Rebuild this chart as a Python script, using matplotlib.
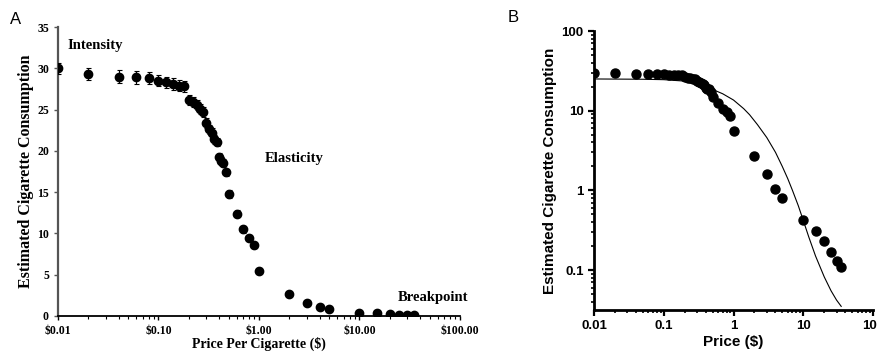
import matplotlib
matplotlib.use("Agg")
import matplotlib.pyplot as plt
from matplotlib.ticker import FixedLocator, LogLocator, NullFormatter, FixedFormatter
import numpy as np

# data
price = [0.01, 0.02, 0.04, 0.06, 0.08, 0.10, 0.12, 0.14, 0.16, 0.18,
         0.20, 0.22, 0.24, 0.26, 0.28, 0.30, 0.32, 0.34, 0.36, 0.38,
         0.40, 0.42, 0.44, 0.47, 0.50, 0.60, 0.70, 0.80, 0.90, 1.00,
         2, 3, 4, 5, 10, 15, 20, 25, 30, 35]
consumption = [30.0, 29.3, 29.0, 28.9, 28.8, 28.5, 28.3, 28.1, 27.9, 27.8,
               26.2, 25.9, 25.5, 25.1, 24.7, 23.4, 22.6, 22.2, 21.4, 21.1,
               19.2, 18.8, 18.5, 17.4, 14.8, 12.4, 10.5, 9.5, 8.6, 5.5,
               2.7, 1.6, 1.05, 0.8, 0.42, 0.31, 0.23, 0.17, 0.13, 0.11]
sem = [0.7, 0.75, 0.75, 0.75, 0.75, 0.7, 0.7, 0.7, 0.7, 0.7,
       0.6, 0.6, 0.6, 0.6, 0.6, 0.6, 0.55, 0.55, 0.55, 0.5,
       0.5, 0.5, 0.5, 0.45, 0.45, 0.4, 0.4, 0.35, 0.35, 0.3,
       0.2, 0.15, 0.1, 0.1, 0.05, 0.05, 0.05, 0.05, 0.05, 0.05]

# fitted demand curve (panel B)
curve_price = [0.01, 0.05, 0.1, 0.2, 0.3, 0.5, 0.7, 1.0, 1.4, 1.7, 2.2, 3.0,
               4.0, 5.0, 6.0, 7.0, 8.5, 10, 12, 15, 20, 25, 30, 35]
curve_q = [25.0, 24.8, 24.5, 23.5, 22.0, 18.5, 16.3, 13.6, 10.6, 8.9, 6.7, 4.6,
           3.0, 2.0, 1.4, 1.0, 0.64, 0.42, 0.26, 0.15, 0.082, 0.055, 0.042, 0.035]

a_ticks = [0.01, 0.1, 1, 10, 100]
a_ticklabels = [r'\$0.01', r'\$0.10', r'\$1.00', r'\$10.00', r'\$100.00']
b_xticklabels = ['0.01', '0.1', '1', '10', '100']
b_yticks = [0.1, 1, 10, 100]
b_yticklabels = ['0.1', '1', '10', '100']

fig = plt.figure(figsize=(8.77, 3.53), dpi=100)

serif = 'Liberation Serif'
sans = 'Liberation Sans'

# ---- panel A ----
ax = fig.add_axes([58/877, 1-316/353, (460-58)/877, (316-27)/353])
ax.errorbar(price, consumption, yerr=sem, fmt='o', color='black', ms=6,
            ecolor='black', elinewidth=0.8, capsize=1.8, capthick=0.8, zorder=3)
ax.set_xscale('log')
ax.set_xlim(0.01, 100)
ax.set_ylim(0, 35)
ax.set_yticks(range(0, 36, 5))
ax.xaxis.set_major_locator(FixedLocator(a_ticks))
ax.xaxis.set_major_formatter(FixedFormatter(a_ticklabels))
ax.xaxis.set_minor_locator(LogLocator(base=10, subs=np.arange(2, 10)))
ax.xaxis.set_minor_formatter(NullFormatter())
for s in ['top', 'right']:
    ax.spines[s].set_visible(False)
ax.spines['left'].set_color('#555555')
ax.spines['left'].set_linewidth(1.6)
ax.spines['bottom'].set_linewidth(1.3)
ax.tick_params(axis='both', which='major', direction='out', length=3, width=1)
ax.tick_params(axis='x', which='minor', direction='out', length=2, width=0.8)
ax.tick_params(axis='y', colors='#555555', labelcolor='black')
for lab in ax.get_xticklabels() + ax.get_yticklabels():
    lab.set_fontfamily(serif)
    lab.set_fontweight('bold')
    lab.set_fontsize(8.5)
ax.set_xlabel('Price Per Cigarette ($)', family=serif, weight='bold', fontsize=10, labelpad=0)
ax.set_ylabel('Estimated Cigarette Consumption', family=serif, weight='bold', fontsize=11.5, labelpad=2)
ax.text(0.0123, 32.7, 'Intensity', family=serif, weight='bold', fontsize=10.5, va='center')
ax.text(1.15, 19.1, 'Elasticity', family=serif, weight='bold', fontsize=10.5, va='center')
ax.text(24, 2.2, 'Breakpoint', family=serif, weight='bold', fontsize=10.5, va='center')
fig.text(10/877, 1-20/353, 'A', family=sans, fontsize=12, va='center')

# ---- panel B ----
bx = fig.add_axes([594/877, 1-310/353, (873-594)/877, (310-31)/353])
bx.plot(curve_price, curve_q, color='black', lw=0.8, zorder=2)
bx.plot(price, consumption, 'o', color='black', ms=6.5, zorder=3)
bx.set_xscale('log')
bx.set_yscale('log')
bx.set_xlim(0.01, 100)
bx.set_ylim(0.0315, 100)
bx.xaxis.set_major_locator(FixedLocator(a_ticks))
bx.xaxis.set_major_formatter(FixedFormatter(b_xticklabels))
bx.yaxis.set_major_locator(FixedLocator(b_yticks))
bx.yaxis.set_major_formatter(FixedFormatter(b_yticklabels))
bx.xaxis.set_minor_locator(LogLocator(base=10, subs=np.arange(2, 10)))
bx.yaxis.set_minor_locator(LogLocator(base=10, subs=np.arange(2, 10)))
bx.xaxis.set_minor_formatter(NullFormatter())
bx.yaxis.set_minor_formatter(NullFormatter())
for s in ['top', 'right']:
    bx.spines[s].set_visible(False)
for s in ['left', 'bottom']:
    bx.spines[s].set_linewidth(2)
bx.tick_params(axis='both', which='major', direction='out', length=4, width=1.6)
bx.tick_params(axis='both', which='minor', direction='out', length=2.5, width=1.2)
for lab in bx.get_xticklabels() + bx.get_yticklabels():
    lab.set_fontfamily(sans)
    lab.set_fontweight('bold')
    lab.set_fontsize(9.5)
bx.set_xlabel('Price ($)', family=sans, weight='bold', fontsize=11, labelpad=2)
bx.set_ylabel('Estimated Cigarette Consumption', family=sans, weight='bold', fontsize=11, labelpad=3)
fig.text(508/877, 1-18/353, 'B', family=sans, fontsize=12, va='center')

fig.savefig('out.png', dpi=100)
